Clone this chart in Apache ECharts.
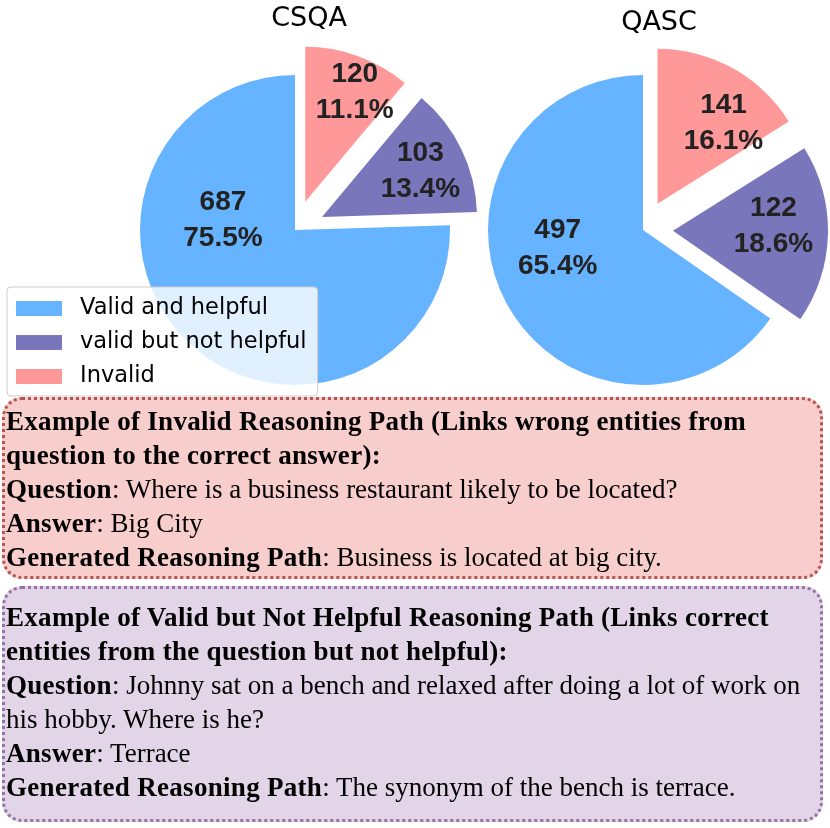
<!DOCTYPE html>
<html>
<head>
<meta charset="utf-8">
<script src="https://cdn.jsdelivr.net/npm/echarts@6/dist/echarts.min.js"></script>
<style>
  body { margin: 0; background: #fff; width: 830px; height: 828px; position: relative; overflow: hidden; }
  #main { position: absolute; left: 0; top: 0; width: 830px; height: 828px; }
  .box {
    position: absolute;
    left: 2px;
    width: 821px;
    box-sizing: border-box;
    border-width: 3px;
    border-style: dotted;
    border-radius: 20px;
    font-family: 'Liberation Serif', 'Times New Roman', serif;
    font-size: 27px;
    line-height: 34px;
    color: #000;
    padding-left: 1px;
    white-space: nowrap;
  }
  .box b { letter-spacing: 0.3px; }
  .invalid { top: 397px; height: 182px; background: #f8cecc; border-color: #b85450; padding-top: 4px; }
  .notHelpful { top: 586px; height: 236px; background: #e1d5e7; border-color: #9673a6; padding-top: 11px; }
</style>
</head>
<body>
<div id="main"></div>

<div class="box invalid">
  <b>Example of Invalid Reasoning Path (Links wrong entities from<br>question to the correct answer):</b><br>
  <b>Question</b>: Where is a business restaurant likely to be located?<br>
  <b>Answer</b>: Big City<br>
  <b>Generated Reasoning Path</b>: Business is located at big city.
</div>

<div class="box notHelpful">
  <b>Example of Valid but Not Helpful Reasoning Path (Links correct<br>entities from the question but not helpful):</b><br>
  <b>Question</b>: Johnny sat on a bench and relaxed after doing a lot of work on<br>his hobby. Where is he?<br>
  <b>Answer</b>: Terrace<br>
  <b>Generated Reasoning Path</b>: The synonym of the bench is terrace.
</div>

<script>
// categories (legend order = slice order, counter-clockwise from the top)
const categories = ['Valid and helpful', 'valid but not helpful', 'Invalid']
const colors = ['#66b3ff', '#7a76bb', '#ff9999']

// values as printed on the figure
const csqaCount = [687, 103, 120]
const csqaPct = [75.5, 13.4, 11.1]
const qascCount = [497, 122, 141]
const qascPct = [65.4, 18.6, 16.1]

// label nudges (px) away from the default inside position
const csqaShift = [[-16, -68], [26, -10], [22, -34]]
const qascShift = [[-14, -19], [20, -6], [27, -10]]

var myChart = echarts.init(document.getElementById('main'))

function makePie(center, counts, pcts, shift) {
  return {
    type: 'pie',
    center: center,
    radius: 155,
    startAngle: 90,
    clockwise: false,
    selectedMode: 'multiple',
    selectedOffset: 30,
    avoidLabelOverlap: false,
    emphasis: { disabled: true },
    label: {
      show: true,
      position: 'inside',
      formatter: function (p) {
        return counts[p.dataIndex] + '\n' + pcts[p.dataIndex].toFixed(1) + '%'
      },
      fontFamily: 'Liberation Sans',
      fontWeight: 'bold',
      fontSize: 28,
      lineHeight: 36,
      color: '#222',
    },
    labelLine: { show: false },
    labelLayout: function (p) {
      return { dx: shift[p.dataIndex][0], dy: shift[p.dataIndex][1] }
    },
    data: categories.map(function (name, i) {
      return {
        name: name,
        value: pcts[i],
        selected: i > 0,
        itemStyle: { color: colors[i] },
        select: { itemStyle: { color: colors[i] } },
      }
    }),
  }
}

var option = {
  animation: false,
  title: [
    {
      text: 'CSQA',
      left: 304,
      top: 0,
      textAlign: 'center',
      textStyle: { fontFamily: 'DejaVu Sans', fontWeight: 'normal', fontSize: 27, color: '#000' },
    },
    {
      text: 'QASC',
      left: 654,
      top: 4,
      textAlign: 'center',
      textStyle: { fontFamily: 'DejaVu Sans', fontWeight: 'normal', fontSize: 27, color: '#000' },
    },
  ],
  legend: {
    orient: 'vertical',
    left: 7,
    top: 287,
    icon: 'rect',
    itemWidth: 46,
    itemHeight: 15,
    itemGap: 11,
    padding: [10, 11, 8, 9],
    selectedMode: false,
    backgroundColor: 'rgba(255,255,255,0.8)',
    borderColor: '#cccccc',
    borderWidth: 1,
    borderRadius: 4,
    textStyle: {
      fontFamily: 'DejaVu Sans',
      fontSize: 22.5,
      lineHeight: 22,
      color: '#000',
      padding: [0, 0, 0, 13],
    },
    data: categories,
  },
  series: [
    makePie([295, 230], csqaCount, csqaPct, csqaShift),
    makePie([643, 230], qascCount, qascPct, qascShift),
  ],
}

myChart.setOption(option)
</script>
</body>
</html>
